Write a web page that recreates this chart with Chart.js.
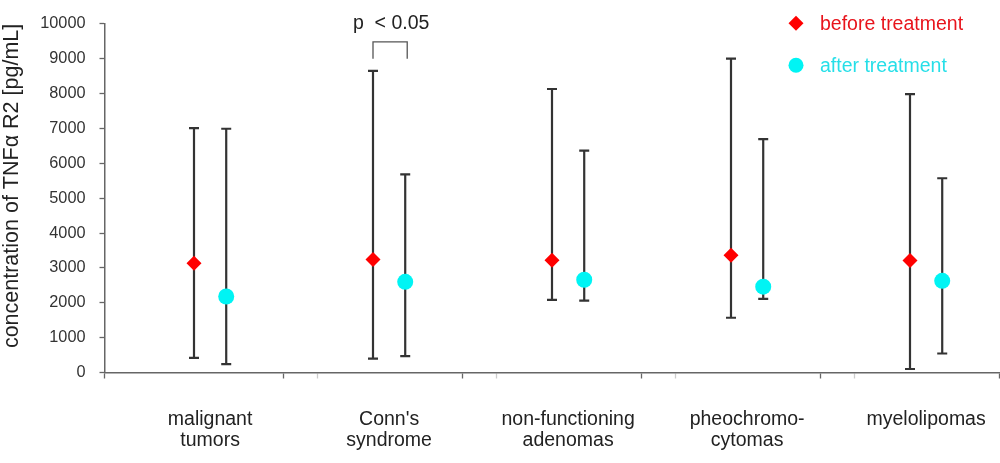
<!DOCTYPE html>
<html>
<head>
<meta charset="utf-8">
<script src="https://cdn.jsdelivr.net/npm/chart.js@4.4.1/dist/chart.umd.min.js"></script>
<style>
  html, body { margin: 0; padding: 0; background: #ffffff; }
  #wrap { width: 1000px; height: 463px; }
</style>
</head>
<body>
<div id="wrap"><canvas id="c" width="1000" height="463"></canvas></div>
<script>
// ---- data ----
const categories = [
  ['malignant', 'tumors'],
  ["Conn's", 'syndrome'],
  ['non-functioning', 'adenomas'],
  ['pheochromo-', 'cytomas'],
  ['myelolipomas']
];
const beforeMean = [3130, 3240, 3220, 3360, 3210];
const beforeLow  = [420, 400, 2080, 1570, 100];
const beforeHigh = [7010, 8650, 8130, 9000, 7980];
const afterMean  = [2180, 2600, 2660, 2460, 2630];
const afterLow   = [240, 470, 2060, 2110, 545];
const afterHigh  = [6990, 5680, 6360, 6690, 5570];
const yTicks = [0, 1000, 2000, 3000, 4000, 5000, 6000, 7000, 8000, 9000, 10000];
const seriesLabels = ['before treatment', 'after treatment'];
const significance = { category: 1, label: 'p  < 0.05', top: 9480, bottom: 9000 };

// ---- styling ----
const FONT = '"Liberation Sans", Arial, Helvetica, sans-serif';
const BEFORE_OFF = 0.5, AFTER_OFF = 0.68, LABEL_OFF = 0.59, FAINT_OFF = 0.19;
const RED = '#ff0000', CYAN = '#00f4f4';

const beforeData = beforeMean.map((v, i) => ({ x: i + BEFORE_OFF, y: v, lo: beforeLow[i], hi: beforeHigh[i] }));
const afterData  = afterMean.map((v, i) => ({ x: i + AFTER_OFF, y: v, lo: afterLow[i], hi: afterHigh[i] }));

const errorBars = {
  id: 'errorBars',
  beforeDatasetsDraw(chart) {
    const { ctx, scales: { x, y } } = chart;
    ctx.save();
    ctx.strokeStyle = '#333333';
    ctx.lineWidth = 2.2;
    chart.data.datasets.forEach(ds => {
      ds.data.forEach(p => {
        const px = x.getPixelForValue(p.x);
        const pl = y.getPixelForValue(p.lo);
        const ph = y.getPixelForValue(p.hi);
        ctx.beginPath();
        ctx.moveTo(px, pl); ctx.lineTo(px, ph);
        ctx.moveTo(px - 5, pl); ctx.lineTo(px + 5, pl);
        ctx.moveTo(px - 5, ph); ctx.lineTo(px + 5, ph);
        ctx.stroke();
      });
    });
    ctx.restore();
  }
};

const annotations = {
  id: 'annotations',
  afterDraw(chart) {
    const { ctx, chartArea, scales: { x, y } } = chart;
    ctx.save();
    // significance bracket
    const xl = x.getPixelForValue(significance.category + BEFORE_OFF);
    const xr = x.getPixelForValue(significance.category + AFTER_OFF) + 2;
    const yt = y.getPixelForValue(significance.top);
    const yb = y.getPixelForValue(significance.bottom);
    ctx.strokeStyle = '#555555';
    ctx.lineWidth = 1.3;
    ctx.beginPath();
    ctx.moveTo(xl, yb); ctx.lineTo(xl, yt); ctx.lineTo(xr, yt); ctx.lineTo(xr, yb);
    ctx.stroke();
    ctx.fillStyle = '#222222';
    ctx.font = '19.5px ' + FONT;
    ctx.textAlign = 'center';
    ctx.textBaseline = 'alphabetic';
    ctx.fillText(significance.label, (xl + xr) / 2 + 1, yt - 12.5);

    // legend
    const lx = chartArea.right - 203.5;
    const items = [
      { text: seriesLabels[0], style: 'rectRot', r: 7.5, color: RED, text_c: '#e8141c', y: chartArea.top - 0.5 },
      { text: seriesLabels[1], style: 'circle', r: 7.5, color: CYAN, text_c: '#26dfe8', y: chartArea.top + 41.5 }
    ];
    items.forEach(it => {
      ctx.fillStyle = it.color;
      Chart.helpers.drawPoint(ctx, { pointStyle: it.style, radius: it.r, rotation: 0, borderWidth: 0 }, lx, it.y);
      ctx.fillStyle = it.text_c;
      ctx.font = '19.5px ' + FONT;
      ctx.textAlign = 'left';
      ctx.textBaseline = 'middle';
      ctx.fillText(it.text, lx + 24, it.y + 1);
    });
    ctx.restore();
  }
};

new Chart(document.getElementById('c'), {
  type: 'scatter',
  data: {
    datasets: [
      {
        label: seriesLabels[0],
        data: beforeData,
        pointStyle: 'rectRot',
        pointRadius: 7.5,
        pointHoverRadius: 7.5,
        backgroundColor: RED,
        borderColor: RED,
        borderWidth: 0
      },
      {
        label: seriesLabels[1],
        data: afterData,
        pointStyle: 'circle',
        pointRadius: 8,
        pointHoverRadius: 8,
        backgroundColor: CYAN,
        borderColor: CYAN,
        borderWidth: 0
      }
    ]
  },
  options: {
    responsive: false,
    animation: false,
    devicePixelRatio: 1,
    layout: { autoPadding: false, padding: { top: 20.5, right: 0.5, left: 0, bottom: 0 } },
    plugins: { legend: { display: false }, tooltip: { enabled: false } },
    scales: {
      x: {
        type: 'linear',
        min: 0,
        max: categories.length,
        afterBuildTicks(scale) {
          const t = [];
          for (let i = 0; i <= categories.length; i++) {
            t.push({ value: i });
            if (i >= 1 && i < categories.length) t.push({ value: i + FAINT_OFF });
            if (i < categories.length) t.push({ value: i + LABEL_OFF });
          }
          t.sort((a, b) => a.value - b.value);
          scale.ticks = t;
        },
        afterFit(scale) {
          scale.height = 90.5;
          scale.paddingLeft = 0;
          scale.paddingRight = 0;
        },
        ticks: {
          autoSkip: false,
          maxRotation: 0,
          minRotation: 0,
          padding: 31,
          color: '#222222',
          font: { family: FONT, size: 19.5, lineHeight: 1.05 },
          callback(value) {
            const i = Math.floor(value);
            return Math.abs(value - i - LABEL_OFF) < 1e-6 ? categories[i] : '';
          }
        },
        grid: {
          drawOnChartArea: false,
          drawTicks: true,
          tickLength: 6,
          tickWidth: 1.3,
          tickColor(ctx) {
            const v = ctx.tick ? ctx.tick.value : 0;
            if (Math.abs(v - Math.round(v)) < 1e-6) return '#666666';
            const f = v - Math.floor(v);
            if (Math.abs(f - FAINT_OFF) < 1e-6) return '#cccccc';
            return 'rgba(0,0,0,0)';
          }
        },
        border: { display: true, color: '#666666', width: 1.5 }
      },
      y: {
        type: 'linear',
        min: 0,
        max: 10000,
        afterBuildTicks(scale) { scale.ticks = yTicks.map(v => ({ value: v })); },
        afterFit(scale) { scale.width = 104.5; },
        ticks: {
          padding: 14,
          color: '#333333',
          font: { family: FONT, size: 16.3 },
          callback(value) { return String(value); }
        },
        grid: {
          drawOnChartArea: false,
          drawTicks: true,
          tickLength: 5,
          tickWidth: 1.3,
          tickColor: '#666666'
        },
        border: { display: true, color: '#666666', width: 1.5 },
        title: {
          display: true,
          text: 'concentration of TNFα R2 [pg/mL]',
          align: 'end',
          color: '#222222',
          font: { family: FONT, size: 21.5, lineHeight: 1.15 },
          padding: { top: 0, bottom: 0 }
        }
      }
    }
  },
  plugins: [errorBars, annotations]
});
</script>
</body>
</html>
